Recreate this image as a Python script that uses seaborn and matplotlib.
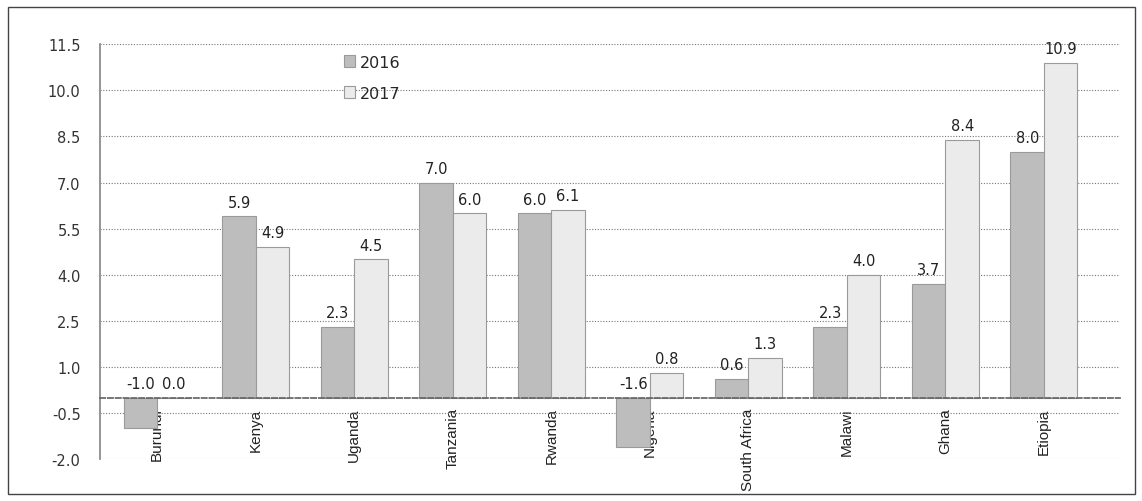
import matplotlib
matplotlib.use("Agg")
import matplotlib.pyplot as plt
import seaborn as sns
import pandas as pd
from matplotlib.patches import Rectangle
from matplotlib import font_manager

countries = ["Burundi", "Kenya", "Uganda", "Tanzania", "Rwanda", "Nigeria",
             "South Africa", "Malawi", "Ghana", "Etiopia"]
values_2016 = [-1.0, 5.9, 2.3, 7.0, 6.0, -1.6, 0.6, 2.3, 3.7, 8.0]
values_2017 = [0.0, 4.9, 4.5, 6.0, 6.1, 0.8, 1.3, 4.0, 8.4, 10.9]
years = ["2016", "2017"]
y_ticks = [-2.0, -0.5, 1.0, 2.5, 4.0, 5.5, 7.0, 8.5, 10.0, 11.5]

df = pd.DataFrame({
    "country": countries * 2,
    "value": values_2016 + values_2017,
    "year": [years[0]] * len(countries) + [years[1]] * len(countries),
})

sns.set_theme(style="white")
plt.rcParams["font.family"] = ["DejaVu Sans"]

names = {f.name for f in font_manager.fontManager.ttflist}
cat_family = "Liberation Sans Narrow" if "Liberation Sans Narrow" in names else "Liberation Sans"

fig = plt.figure(figsize=(11.42, 5.02), dpi=100)
ax = fig.add_axes([0.0876, 0.0837, 0.893, 0.826])

sns.barplot(data=df, x="country", y="value", hue="year", order=countries,
            hue_order=years, palette=["#bdbdbd", "#ebebeb"], width=0.68,
            edgecolor="#9a9a9a", linewidth=0.8, ax=ax, errorbar=None)

# value labels
for cont, vals in zip(ax.containers, [values_2016, values_2017]):
    for bar, v in zip(cont, vals):
        xc = bar.get_x() + bar.get_width() / 2
        ax.text(xc, max(v, 0) + 0.22, f"{v:.1f}", ha="center", va="bottom",
                fontsize=10.5, color="#222222")

ax.set_ylim(-2.0, 11.5)
ax.set_xlim(-0.58, 9.77)
ax.set_yticks(y_ticks)
ax.set_yticklabels([f"{t:.1f}" for t in y_ticks], fontsize=10.5, color="#333333")
ax.yaxis.grid(True, linestyle=(0, (1, 1.5)), color="#777777", linewidth=0.8)
ax.set_axisbelow(True)
ax.tick_params(axis="y", length=0, pad=14)

ax.spines["top"].set_visible(False)
ax.spines["right"].set_visible(False)
ax.spines["left"].set_color("#888888")
ax.spines["bottom"].set_position(("data", 0))
ax.spines["bottom"].set_color("#666666")
ax.spines["bottom"].set_linestyle((0, (3, 1.5)))

ax.tick_params(axis="x", length=0, pad=7)
for lbl in ax.get_xticklabels():
    lbl.set_rotation(90)
    lbl.set_va("top")
    lbl.set_ha("center")
    lbl.set_fontsize(11)
    lbl.set_family(cat_family)
    lbl.set_color("#222222")

ax.set_xlabel("")
ax.set_ylabel("")

handles, labels = ax.get_legend_handles_labels()
ax.legend(handles, labels, loc="upper left", bbox_to_anchor=(0.225, 1.01),
          frameon=False, fontsize=11.5, labelspacing=1.0, handlelength=0.7,
          handleheight=0.7, handletextpad=0.3)

fig.patches.append(Rectangle((0.007, 0.014), 0.987, 0.97, transform=fig.transFigure,
                             fill=False, edgecolor="#444444", linewidth=1.0))

fig.savefig("out.png", dpi=100)
